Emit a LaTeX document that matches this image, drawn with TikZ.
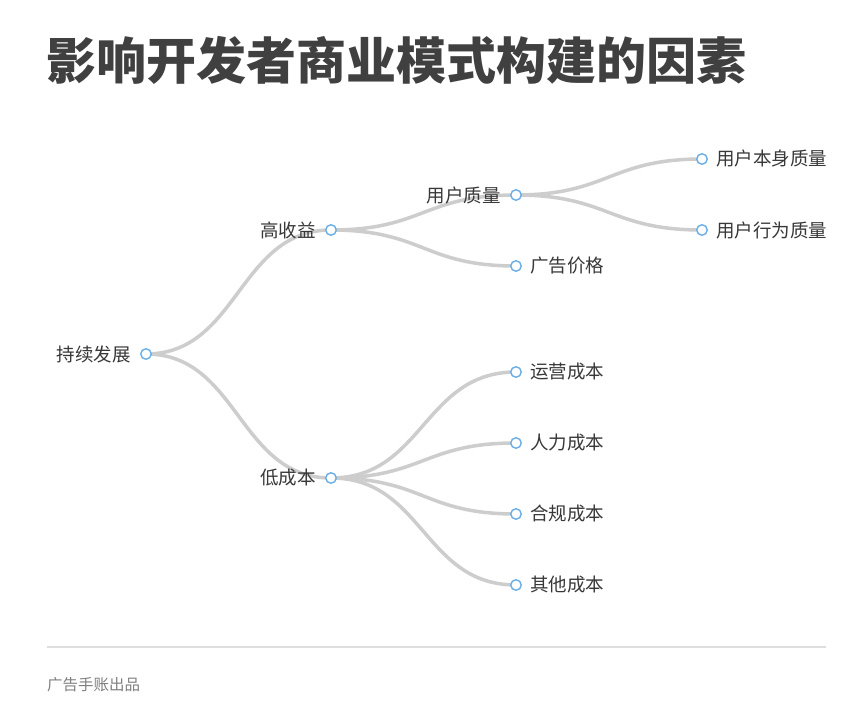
\documentclass[tikz,border=0pt]{standalone}
\usepackage{fontspec}
\setmainfont{Noto Sans CJK SC}
\begin{document}
\begin{tikzpicture}[x=1pt,y=-1pt,
  dot/.style={circle,draw=dotblue,fill=white,line width=1.4pt,minimum size=10.5pt,inner sep=0pt},
  link/.style={draw=linkgray,line width=3.5pt},
  lbl/.style={font=\fontsize{18.5}{20}\selectfont,text=labeltext,inner sep=0pt}]
\definecolor{dotblue}{HTML}{6AAEE8}
\definecolor{linkgray}{HTML}{CDCDCD}
\definecolor{labeltext}{HTML}{383838}
\definecolor{titletext}{HTML}{404040}
\useasboundingbox[fill=white] (0,0) rectangle (860,719);
\node[anchor=base west,inner sep=0pt,text=titletext,font=\fontsize{50}{56}\selectfont\bfseries] (title) at (46,80) {影响开发者商业模式构建的因素};
% node positions
\coordinate (root) at (146,354);
\coordinate (a) at (331,230);
\coordinate (b) at (331,478);
\coordinate (a1) at (516,195);
\coordinate (a2) at (516,266);
\coordinate (a11) at (702,159);
\coordinate (a12) at (702,230);
\coordinate (b1) at (516,372);
\coordinate (b2) at (516,443);
\coordinate (b3) at (516,514);
\coordinate (b4) at (516,585);
% links
\foreach \p/\c in {root/a,root/b,a/a1,a/a2,a1/a11,a1/a12,b/b1,b/b2,b/b3,b/b4}{
  \path[link] (\p) .. controls +(92.5,0) and +(-92.5,0) .. (\c);
}
% dots
\foreach \n in {root,a,b,a1,a2,a11,a12,b1,b2,b3,b4}{\node[dot] (d\n) at (\n) {};}
% labels
\node[lbl,anchor=east] (lroot) at ([xshift=-9pt]droot.west) {持续发展};
\node[lbl,anchor=east] (la) at ([xshift=-9pt]da.west) {高收益};
\node[lbl,anchor=east] (lb) at ([xshift=-9pt]db.west) {低成本};
\node[lbl,anchor=east] (la1) at ([xshift=-9pt]da1.west) {用户质量};
\node[lbl,anchor=west] (la2) at ([xshift=8pt]da2.east) {广告价格};
\node[lbl,anchor=west] (la11) at ([xshift=8pt]da11.east) {用户本身质量};
\node[lbl,anchor=west] (la12) at ([xshift=8pt]da12.east) {用户行为质量};
\node[lbl,anchor=west] (lb1) at ([xshift=8pt]db1.east) {运营成本};
\node[lbl,anchor=west] (lb2) at ([xshift=8pt]db2.east) {人力成本};
\node[lbl,anchor=west] (lb3) at ([xshift=8pt]db3.east) {合规成本};
\node[lbl,anchor=west] (lb4) at ([xshift=8pt]db4.east) {其他成本};
% footer
\coordinate (fl) at (47,647);
\coordinate (fr) at (826,647);
\draw[draw=black!13,line width=1.2pt] (fl) -- (fr);
\node[anchor=west,inner sep=0pt,text=black!50,font=\fontsize{15.5}{17}\selectfont] (footer) at (47,685) {广告手账出品};
\end{tikzpicture}
\end{document}
